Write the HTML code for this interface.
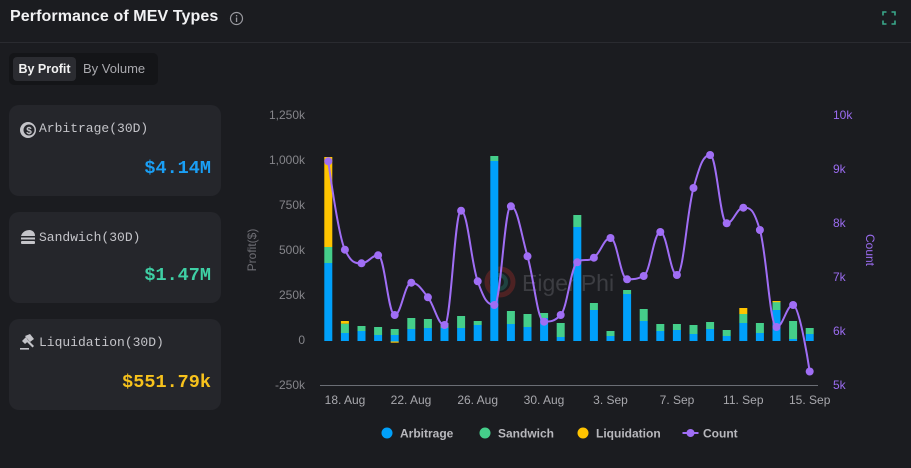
<!DOCTYPE html>
<html><head><meta charset="utf-8">
<style>
html,body{margin:0;padding:0;}
body{width:911px;height:468px;background:#1b1c20;position:relative;overflow:hidden;font-family:"Liberation Sans",sans-serif;}
.title{position:absolute;left:10px;top:8px;font-size:16px;font-weight:bold;color:#f2f2f4;letter-spacing:0.1px;}
.divider{position:absolute;left:0;top:42px;width:911px;height:1px;background:#2a2b30;}
.toggle{position:absolute;left:9px;top:53px;width:149px;height:32px;background:#141518;border-radius:5px;}
.tsel{position:absolute;left:4px;top:4px;width:63px;height:24px;background:#2b2c31;border-radius:4px;color:#f2f2f2;font-size:12.5px;font-weight:bold;line-height:24px;text-align:center;}
.tun{position:absolute;left:74px;top:4px;height:24px;line-height:24px;color:#a9a9ae;font-size:13px;}
.card{position:absolute;left:9px;width:212px;height:91px;background:#25262b;border-radius:10px;}
.ct{position:absolute;left:30px;font-family:"Liberation Mono",monospace;font-size:13px;color:#c4c4c9;}
.cv{position:absolute;right:10px;font-family:"Liberation Mono",monospace;font-size:18.5px;font-weight:bold;}
.ic{position:absolute;left:10px;}
</style></head><body>
<div class="title">Performance of MEV Types</div>
<svg style="position:absolute;left:229px;top:11px" width="15" height="15"><circle cx="7.5" cy="7.5" r="6" fill="none" stroke="#9a9aa0" stroke-width="1.2"/><rect x="6.9" y="6.5" width="1.3" height="4.5" fill="#9a9aa0"/><rect x="6.9" y="4" width="1.3" height="1.4" fill="#9a9aa0"/></svg>
<svg style="position:absolute;left:882px;top:11px" width="14" height="14"><path d="M1 4.5V1h3.5M9.5 1H13v3.5M13 9.5V13H9.5M4.5 13H1V9.5" fill="none" stroke="#3aa88a" stroke-width="1.6"/></svg>
<div class="divider"></div>
<div class="toggle"><div class="tsel">By Profit</div><div class="tun">By Volume</div></div>

<div class="card" style="top:105px">
  <svg class="ic" style="top:16px" width="18" height="18"><circle cx="9" cy="9" r="8" fill="#c4c4c9"/><circle cx="10" cy="9" r="5.5" fill="#25262b"/><text x="10" y="13" font-size="10" font-weight="bold" text-anchor="middle" fill="#c4c4c9" font-family="Liberation Sans">$</text></svg>
  <div class="ct" style="top:16px">Arbitrage(30D)</div>
  <div class="cv" style="top:53px;color:#1a9ff5">$4.14M</div>
</div>
<div class="card" style="top:212px">
  <svg class="ic" style="top:16px" width="18" height="18"><path d="M2 8 Q4 2 11 2 Q16 3 16 8Z" fill="#c4c4c9"/><rect x="2" y="9.5" width="14" height="2" fill="#c4c4c9"/><rect x="2" y="13" width="14" height="3" rx="1" fill="#c4c4c9"/></svg>
  <div class="ct" style="top:18px">Sandwich(30D)</div>
  <div class="cv" style="top:53px;color:#3fd0a5">$1.47M</div>
</div>
<div class="card" style="top:319px">
  <svg class="ic" style="top:14px" width="18" height="18"><path d="M6 3 L11 1 L15 6 L11 9 Z" fill="#c4c4c9"/><path d="M9 7 L15 13 L13.5 14.5 L7.5 8.5Z" fill="#c4c4c9"/><rect x="1" y="15" width="9" height="1.6" fill="#c4c4c9"/><path d="M3 8 L7 4 L9.5 8 L6 11Z" fill="#c4c4c9"/></svg>
  <div class="ct" style="top:16px">Liquidation(30D)</div>
  <div class="cv" style="top:53px;color:#f7c21c">$551.79k</div>
</div>

<svg style="position:absolute;left:0;top:0" width="911" height="468" font-family="Liberation Sans">
  <g opacity="0.3">
    <circle cx="500" cy="282" r="13" fill="none" stroke="#c0302a" stroke-width="5"/>
    <circle cx="499" cy="282" r="7" fill="none" stroke="#2a9a8a" stroke-width="4"/>
    <text x="522" y="291" font-size="23" fill="#8a8a90">EigenPhi</text>
  </g>
  <g font-size="12" fill="#85858a" text-anchor="end">
    <text x="305" y="119">1,250k</text>
    <text x="305" y="164">1,000k</text>
    <text x="305" y="209">750k</text>
    <text x="305" y="254">500k</text>
    <text x="305" y="299">250k</text>
    <text x="305" y="344">0</text>
    <text x="305" y="389">-250k</text>
  </g>
  <text transform="translate(256,250) rotate(-90)" font-size="12" fill="#6e6e74" text-anchor="middle">Profit($)</text>
  <g font-size="12" fill="#9b6cf0">
    <text x="833" y="119">10k</text>
    <text x="833" y="173">9k</text>
    <text x="833" y="227">8k</text>
    <text x="833" y="281">7k</text>
    <text x="833" y="335">6k</text>
    <text x="833" y="389">5k</text>
  </g>
  <text transform="translate(866,250) rotate(90)" font-size="12" fill="#9b6cf0" text-anchor="middle">Count</text>
  <rect x="320" y="385" width="498" height="1" fill="#6b6e75"/>
  <g font-size="12" fill="#a8a8ad" text-anchor="middle">
    <text x="345" y="404">18. Aug</text>
    <text x="411" y="404">22. Aug</text>
    <text x="477.7" y="404">26. Aug</text>
    <text x="544" y="404">30. Aug</text>
    <text x="610.5" y="404">3. Sep</text>
    <text x="677" y="404">7. Sep</text>
    <text x="743.3" y="404">11. Sep</text>
    <text x="809.7" y="404">15. Sep</text>
  </g>
  <g>
    <g fill="#00a0fa">
      <rect x="324.3" y="263" width="8" height="78"/>
      <rect x="340.9" y="333" width="8" height="8"/>
      <rect x="357.5" y="331" width="8" height="10"/>
      <rect x="374.1" y="335" width="8" height="6"/>
      <rect x="390.7" y="335" width="8" height="7"/>
      <rect x="407.3" y="329" width="8" height="12"/>
      <rect x="423.9" y="328" width="8" height="13"/>
      <rect x="440.5" y="328" width="8" height="13"/>
      <rect x="457.1" y="328" width="8" height="13"/>
      <rect x="473.7" y="325" width="8" height="16"/>
      <rect x="490.3" y="161" width="8" height="180"/>
      <rect x="506.9" y="324" width="8" height="17"/>
      <rect x="523.5" y="327" width="8" height="14"/>
      <rect x="540.1" y="318" width="8" height="23"/>
      <rect x="556.7" y="337" width="8" height="4"/>
      <rect x="573.3" y="227" width="8" height="114"/>
      <rect x="589.9" y="310" width="8" height="31"/>
      <rect x="606.5" y="336" width="8" height="5"/>
      <rect x="623.1" y="294" width="8" height="47"/>
      <rect x="639.7" y="321" width="8" height="20"/>
      <rect x="656.3" y="331" width="8" height="10"/>
      <rect x="672.9" y="330" width="8" height="11"/>
      <rect x="689.5" y="334" width="8" height="7"/>
      <rect x="706.1" y="329" width="8" height="12"/>
      <rect x="722.7" y="336" width="8" height="5"/>
      <rect x="739.3" y="323" width="8" height="18"/>
      <rect x="755.9" y="333" width="8" height="8"/>
      <rect x="772.5" y="310" width="8" height="31"/>
      <rect x="789.1" y="339" width="8" height="2"/>
      <rect x="805.7" y="334" width="8" height="7"/>
    </g>
    <g fill="#45ce8a">
      <rect x="324.3" y="247" width="8" height="16"/>
      <rect x="340.9" y="323.7" width="8" height="9.3"/>
      <rect x="357.5" y="326" width="8" height="5"/>
      <rect x="374.1" y="327" width="8" height="8"/>
      <rect x="390.7" y="329" width="8" height="6"/>
      <rect x="407.3" y="318" width="8" height="11"/>
      <rect x="423.9" y="319" width="8" height="9"/>
      <rect x="440.5" y="323" width="8" height="5"/>
      <rect x="457.1" y="316" width="8" height="12"/>
      <rect x="473.7" y="321" width="8" height="4"/>
      <rect x="490.3" y="156" width="8" height="5"/>
      <rect x="506.9" y="311" width="8" height="13"/>
      <rect x="523.5" y="314" width="8" height="13"/>
      <rect x="540.1" y="313" width="8" height="5"/>
      <rect x="556.7" y="323" width="8" height="14"/>
      <rect x="573.3" y="215" width="8" height="12"/>
      <rect x="589.9" y="303" width="8" height="7"/>
      <rect x="606.5" y="331" width="8" height="5"/>
      <rect x="623.1" y="290" width="8" height="4"/>
      <rect x="639.7" y="309" width="8" height="12"/>
      <rect x="656.3" y="324" width="8" height="7"/>
      <rect x="672.9" y="324" width="8" height="6"/>
      <rect x="689.5" y="325" width="8" height="9"/>
      <rect x="706.1" y="322" width="8" height="7"/>
      <rect x="722.7" y="330" width="8" height="6"/>
      <rect x="739.3" y="314" width="8" height="9"/>
      <rect x="755.9" y="323" width="8" height="10"/>
      <rect x="772.5" y="302" width="8" height="8"/>
      <rect x="789.1" y="321" width="8" height="18"/>
      <rect x="805.7" y="328" width="8" height="6"/>
    </g>
    <g fill="#ffc400">
      <rect x="324.3" y="157" width="8" height="90"/>
      <rect x="340.9" y="321" width="8" height="2.7"/>
      <rect x="390.7" y="341.5" width="8" height="1.2"/>
      <rect x="739.3" y="308" width="8" height="6"/>
      <rect x="772.5" y="301" width="8" height="1.2"/>
    </g>
  </g>
  <path id="cline" fill="none" stroke="#a06ef5" stroke-width="2" d="M328.3 161.3L344.9 249.7L361.5 263.3L378.1 255.3L394.7 315L411.3 282.7L427.9 297.3L444.5 325L461.1 210.7L477.7 281.3L494.3 305L510.9 206.3L527.5 256.3L544.1 321.7L560.7 315L577.3 262.3L593.9 257.7L610.5 238L627.1 279.3L643.7 276L660.3 232L676.9 275L693.5 188L710.1 155L726.7 223.3L743.3 207.7L759.9 230L776.5 327L793.1 305L809.7 371.5"/>
  <g id="dots" fill="#a06ef5"></g>
  <g font-size="12" font-weight="bold" fill="#b8b8bd">
    <circle cx="387" cy="433" r="5.5" fill="#00a0fa"/>
    <text x="400" y="437.5">Arbitrage</text>
    <circle cx="485" cy="433" r="5.5" fill="#45ce8a"/>
    <text x="498" y="437.5">Sandwich</text>
    <circle cx="583" cy="433" r="5.5" fill="#ffc400"/>
    <text x="596" y="437.5">Liquidation</text>
    <rect x="682.5" y="432" width="16" height="2" fill="#a06ef5"/>
    <circle cx="690.5" cy="433" r="4" fill="#a06ef5"/>
    <text x="703" y="437.5">Count</text>
  </g>
</svg>
<script>
(function(){
  var ys=[161.3,249.7,263.3,255.3,315,282.7,297.3,325,210.7,281.3,305,206.3,256.3,321.7,315,262.3,257.7,238,279.3,276,232,275,188,155,223.3,207.7,230,327,305,371.5];
  var pts=ys.map(function(y,i){return {x:328.3+i*16.6,y:y};});
  var sm=1.5,den=2.5;
  for(var i=1;i<pts.length-1;i++){
    var p=pts[i],l=pts[i-1],n=pts[i+1];
    var lx=(sm*p.x+l.x)/den,ly=(sm*p.y+l.y)/den,rx=(sm*p.x+n.x)/den,ry=(sm*p.y+n.y)/den;
    var c=((ry-ly)*(rx-p.x))/(rx-lx)+p.y-ry;
    ly+=c;ry+=c;
    if(ly>l.y&&ly>p.y){ly=Math.max(l.y,p.y);ry=2*p.y-ly;}
    else if(ly<l.y&&ly<p.y){ly=Math.min(l.y,p.y);ry=2*p.y-ly;}
    if(ry>n.y&&ry>p.y){ry=Math.max(n.y,p.y);ly=2*p.y-ry;}
    else if(ry<n.y&&ry<p.y){ry=Math.min(n.y,p.y);ly=2*p.y-ry;}
    p.lx=lx;p.ly=ly;p.rx=rx;p.ry=ry;
  }
  var d='M'+pts[0].x+' '+pts[0].y;
  for(var j=1;j<pts.length;j++){
    var a=pts[j-1],b=pts[j];
    var c1x=a.rx!==undefined?a.rx:a.x,c1y=a.ry!==undefined?a.ry:a.y;
    var c2x=b.lx!==undefined?b.lx:b.x,c2y=b.ly!==undefined?b.ly:b.y;
    d+=' C'+c1x.toFixed(2)+' '+c1y.toFixed(2)+' '+c2x.toFixed(2)+' '+c2y.toFixed(2)+' '+b.x.toFixed(2)+' '+b.y.toFixed(2);
  }
  document.getElementById('cline').setAttribute('d',d);
  var g=document.getElementById('dots'),ns='http://www.w3.org/2000/svg';
  pts.forEach(function(p){var c=document.createElementNS(ns,'circle');c.setAttribute('cx',p.x);c.setAttribute('cy',p.y);c.setAttribute('r',4);g.appendChild(c);});
})();
</script>
</body></html>
